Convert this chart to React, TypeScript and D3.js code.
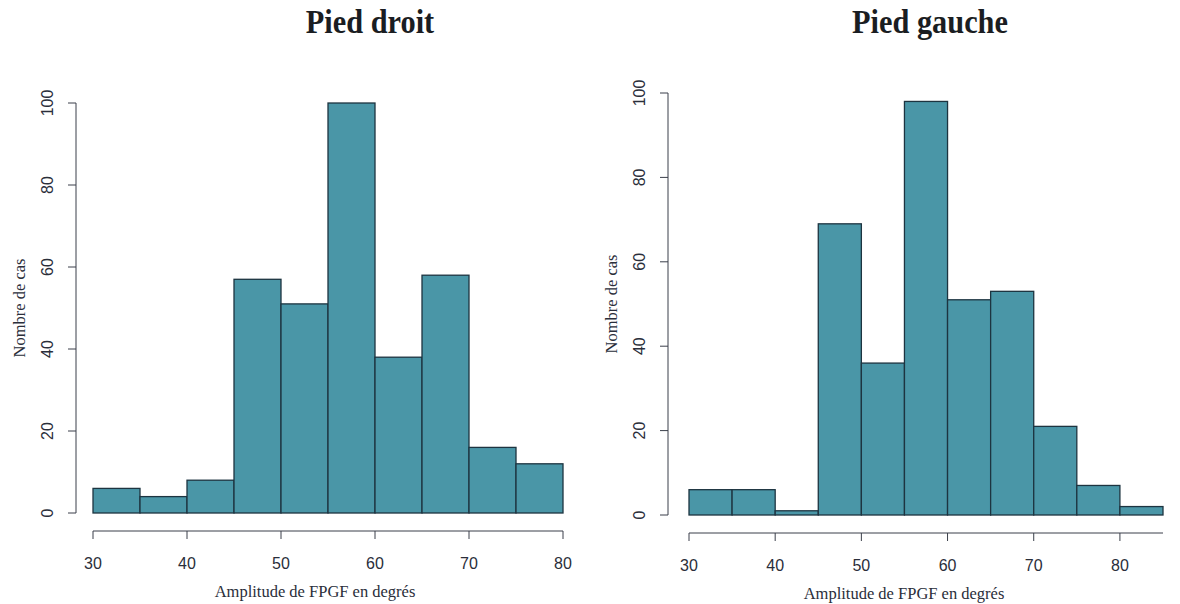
import React from 'react';
import * as d3 from 'd3';

// Bin edges (degrés) and counts.
const droitEdges = [30, 35, 40, 45, 50, 55, 60, 65, 70, 75, 80];
const droitCounts = [6, 4, 8, 57, 51, 100, 38, 58, 16, 12];

const gaucheEdges = [30, 35, 40, 45, 50, 55, 60, 65, 70, 75, 80, 85];
const gaucheCounts = [6, 6, 1, 69, 36, 98, 51, 53, 21, 7, 2];

const xTicks = [30, 40, 50, 60, 70, 80];
const yTicks = [0, 20, 40, 60, 80, 100];

const BAR_FILL = '#4a96a7';
const BAR_STROKE = '#1d3440';
const AXIS_COLOR = '#3a3f4a';
const TEXT_COLOR = '#2a2e3a';

type PanelProps = {
  title: string;
  titleX: number;
  xLabelX: number;
  edges: number[];
  counts: number[];
  xDomain: [number, number];
  xRange: [number, number];
  yRange: [number, number];
  yAxisX: number;
  xAxisY: number;
};

const Panel = ({ title, titleX, xLabelX, edges, counts, xDomain, xRange, yRange, yAxisX, xAxisY }: PanelProps) => {
  const x = d3.scaleLinear().domain(xDomain).range(xRange);
  const y = d3.scaleLinear().domain([0, 100]).range(yRange);
  const bins = counts.map((c, i) => ({ x0: edges[i], x1: edges[i + 1], c }));
  const yMid = (y(0) + y(100)) / 2;

  return (
    <g>
      <text
        x={titleX}
        y={33}
        textAnchor="middle"
        fontFamily="'Liberation Serif', serif"
        fontWeight="bold"
        fontSize={33}
        fill="#1a1d22"
        transform={`translate(${titleX * 0.08},0) scale(0.92,1)`}
      >
        {title}
      </text>

      {/* bars */}
      {bins.map((b, i) => (
        <rect
          key={i}
          x={x(b.x0)}
          y={y(b.c)}
          width={x(b.x1) - x(b.x0)}
          height={y(0) - y(b.c)}
          fill={BAR_FILL}
          stroke={BAR_STROKE}
          strokeWidth={1.3}
        />
      ))}

      {/* x axis */}
      <line x1={x(xDomain[0])} x2={x(xDomain[1])} y1={xAxisY} y2={xAxisY} stroke={AXIS_COLOR} strokeWidth={1} />
      {xTicks.map(t => (
        <g key={t}>
          <line x1={x(t)} x2={x(t)} y1={xAxisY} y2={xAxisY + 8} stroke={AXIS_COLOR} strokeWidth={1} />
          <text
            x={x(t)}
            y={xAxisY + 38}
            textAnchor="middle"
            fontFamily="'Liberation Sans', Arial, sans-serif"
            fontSize={16}
            fill={TEXT_COLOR}
          >
            {t}
          </text>
        </g>
      ))}
      <text
        x={xLabelX}
        y={xAxisY + 66}
        textAnchor="middle"
        fontFamily="'Liberation Serif', serif"
        fontSize={16.5}
        fill={TEXT_COLOR}
      >
        Amplitude de FPGF en degrés
      </text>

      {/* y axis */}
      <line x1={yAxisX} x2={yAxisX} y1={y(0)} y2={y(100)} stroke={AXIS_COLOR} strokeWidth={1} />
      {yTicks.map(t => (
        <g key={t}>
          <line x1={yAxisX - 8} x2={yAxisX} y1={y(t)} y2={y(t)} stroke={AXIS_COLOR} strokeWidth={1} />
          <text
            transform={`translate(${yAxisX - 29},${y(t)}) rotate(-90)`}
            textAnchor="middle"
            dy="0.35em"
            fontFamily="'Liberation Sans', Arial, sans-serif"
            fontSize={16}
            fill={TEXT_COLOR}
          >
            {t}
          </text>
        </g>
      ))}
      <text
        transform={`translate(${yAxisX - 51},${yMid}) rotate(-90)`}
        textAnchor="middle"
        fontFamily="'Liberation Serif', serif"
        fontSize={16.5}
        fill={TEXT_COLOR}
      >
        Nombre de cas
      </text>
    </g>
  );
};

export default function App() {
  return (
    <svg
      width={1180}
      height={604}
      style={{ position: 'absolute', left: 0, top: 0, background: '#fff' }}
    >
      <rect width={1180} height={604} fill="#fff" />
      <Panel
        title="Pied droit"
        titleX={370}
        xLabelX={315}
        edges={droitEdges}
        counts={droitCounts}
        xDomain={[30, 80]}
        xRange={[93, 563]}
        yRange={[513, 103]}
        yAxisX={76}
        xAxisY={531}
      />
      <Panel
        title="Pied gauche"
        titleX={930}
        xLabelX={904}
        edges={gaucheEdges}
        counts={gaucheCounts}
        xDomain={[30, 85]}
        xRange={[689, 1163]}
        yRange={[515, 93]}
        yAxisX={668}
        xAxisY={533}
      />
    </svg>
  );
}
